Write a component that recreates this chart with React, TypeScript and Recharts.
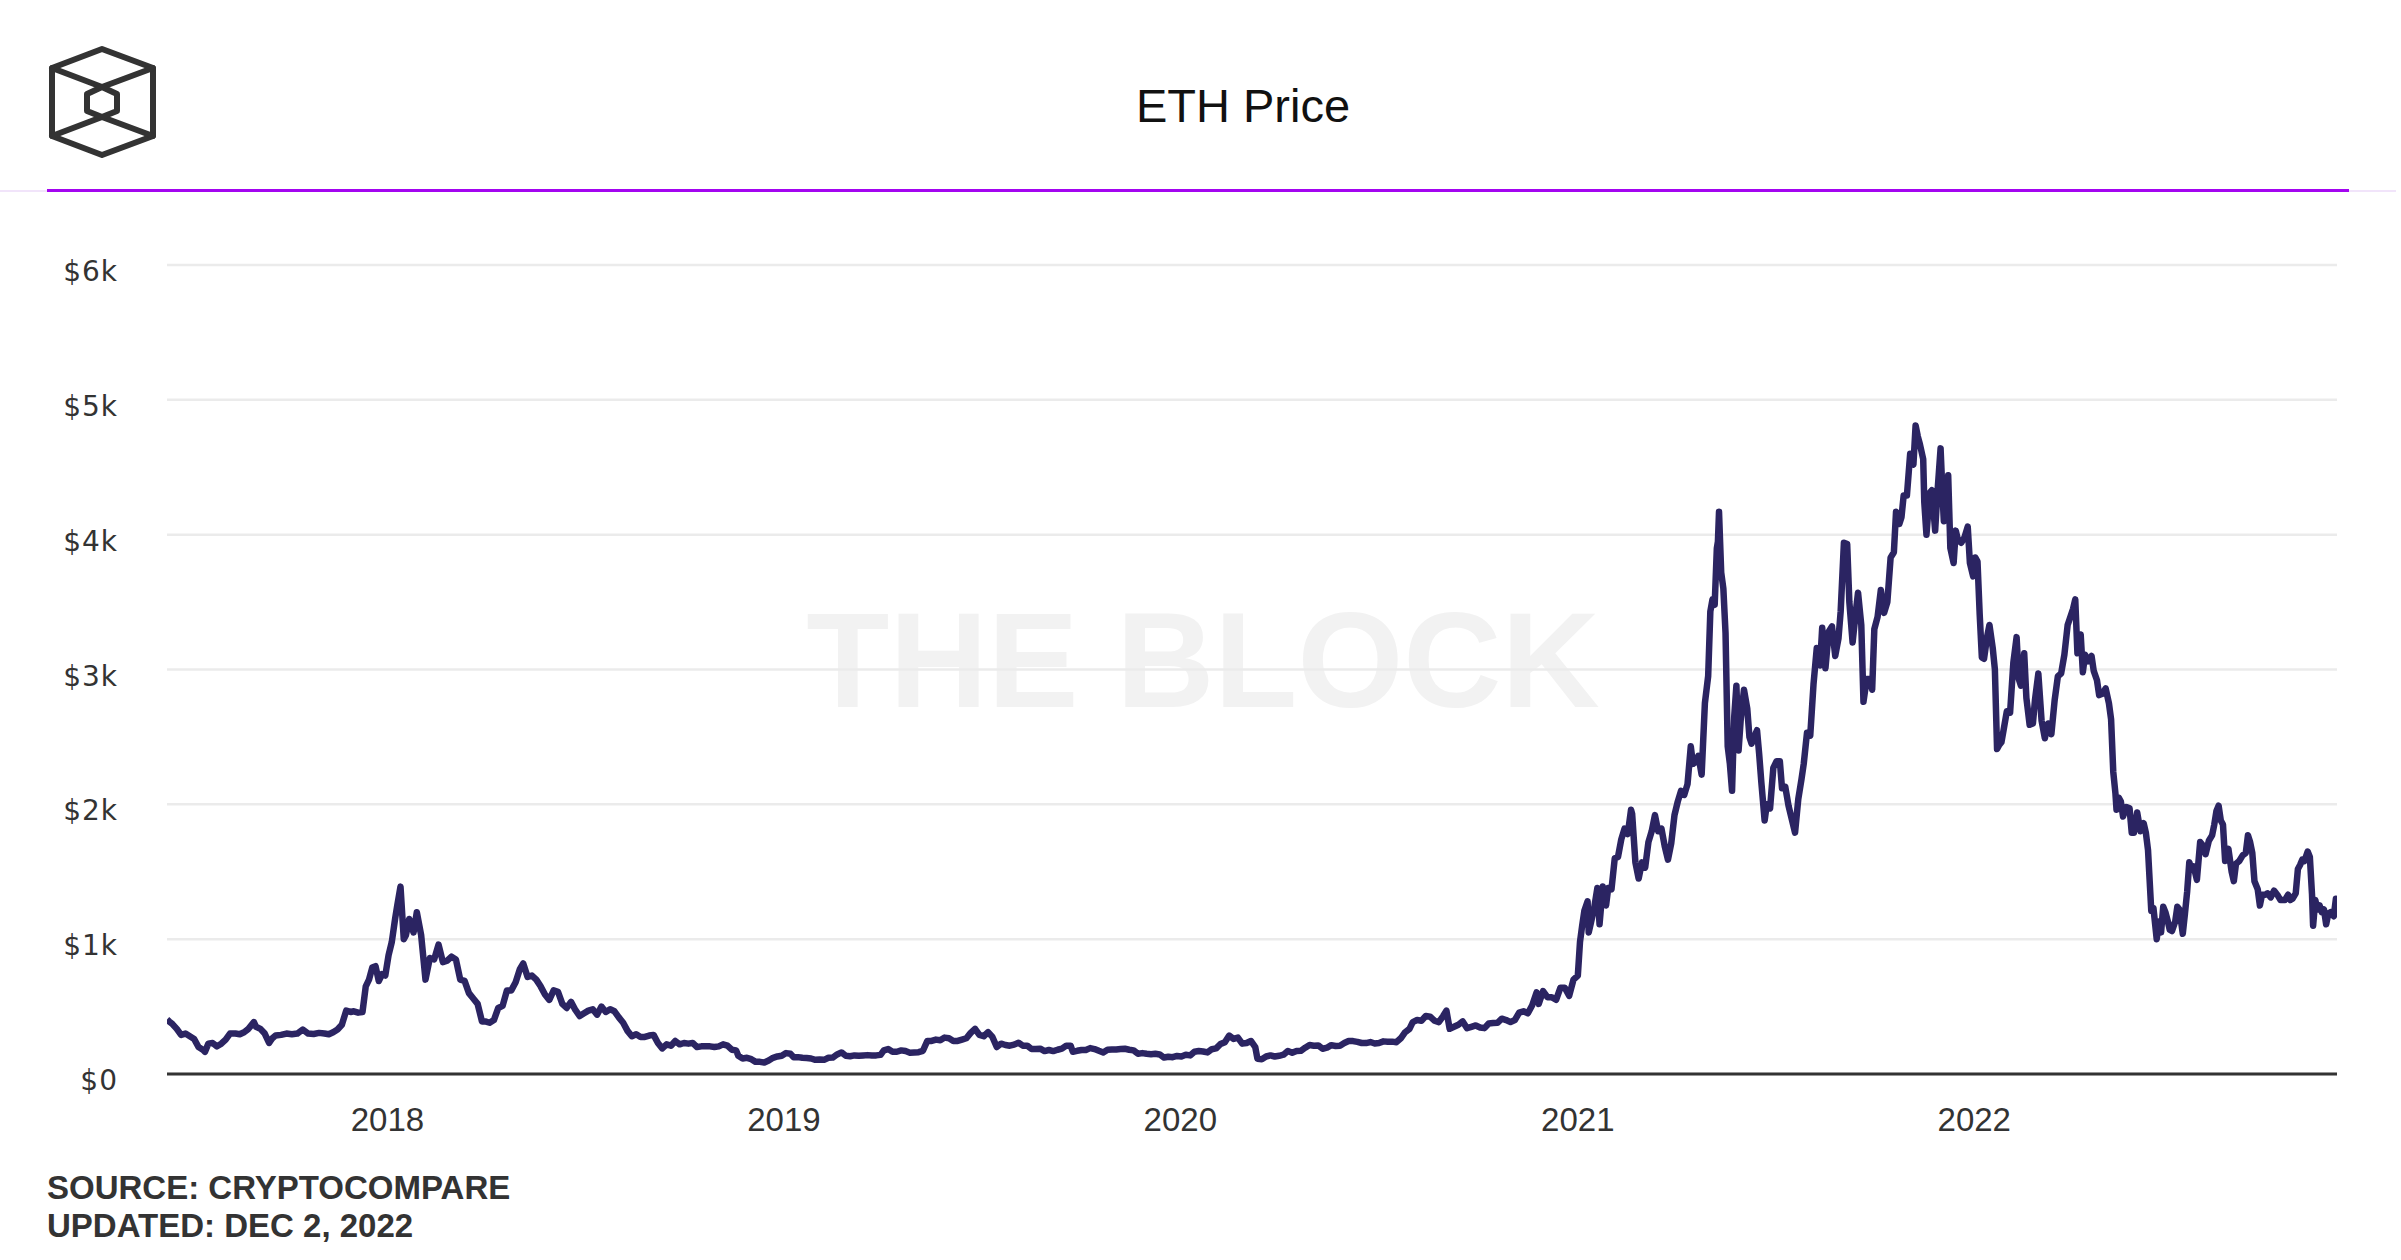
import { LineChart, Line, XAxis, YAxis, CartesianGrid } from 'recharts'

// ETH price (USD): [month-day, price]
const eth2017: [string, number][] = [
  ['06-12', 405], ['06-14', 390], ['06-17', 370], ['06-21', 335], ['06-25', 290], ['06-29', 300],
  ['07-03', 280], ['07-07', 260], ['07-11', 200], ['07-15', 180], ['07-17', 165], ['07-20', 225],
  ['07-24', 230], ['07-28', 205], ['08-01', 225], ['08-05', 255], ['08-09', 300], ['08-14', 300],
  ['08-18', 295], ['08-22', 310], ['08-26', 335], ['08-31', 385], ['09-02', 350], ['09-06', 335],
  ['09-10', 300], ['09-14', 230], ['09-17', 265], ['09-20', 285], ['09-25', 290], ['09-30', 300],
  ['10-05', 295], ['10-10', 300], ['10-15', 330], ['10-20', 300], ['10-25', 297], ['10-30', 305],
  ['11-04', 300], ['11-08', 295], ['11-12', 310], ['11-16', 330], ['11-20', 365], ['11-24', 470],
  ['11-28', 460], ['12-01', 465], ['12-05', 455], ['12-09', 460], ['12-12', 650], ['12-15', 700],
  ['12-18', 790], ['12-21', 800], ['12-24', 690], ['12-27', 740], ['12-30', 730],
]

const eth2018: [string, number][] = [
  ['01-02', 880], ['01-05', 980], ['01-08', 1150], ['01-10', 1250], ['01-13', 1390], ['01-16', 1000],
  ['01-18', 1030], ['01-21', 1150], ['01-25', 1050], ['01-28', 1200], ['02-01', 1030], ['02-05', 700],
  ['02-09', 860], ['02-13', 850], ['02-17', 960], ['02-21', 830], ['02-25', 840], ['03-01', 870],
  ['03-05', 850], ['03-09', 700], ['03-13', 690], ['03-17', 600], ['03-21', 560], ['03-25', 520],
  ['03-29', 390], ['04-01', 390], ['04-05', 380], ['04-09', 400], ['04-13', 490], ['04-17', 505],
  ['04-21', 620], ['04-25', 620], ['04-29', 680], ['05-03', 780], ['05-06', 820], ['05-10', 720],
  ['05-14', 730], ['05-18', 700], ['05-22', 650], ['05-26', 590], ['05-30', 550], ['06-03', 620],
  ['06-07', 610], ['06-11', 520], ['06-15', 490], ['06-19', 535], ['06-23', 475], ['06-27', 430],
  ['07-01', 450], ['07-05', 470], ['07-09', 480], ['07-13', 440], ['07-17', 500], ['07-21', 460],
  ['07-25', 480], ['07-29', 465], ['08-02', 420], ['08-06', 380], ['08-10', 320], ['08-14', 280],
  ['08-18', 295], ['08-22', 275], ['08-26', 275], ['08-30', 285], ['09-03', 290], ['09-07', 230],
  ['09-11', 190], ['09-15', 220], ['09-19', 210], ['09-23', 245], ['09-27', 220], ['10-01', 230],
  ['10-05', 225], ['10-09', 230], ['10-13', 200], ['10-17', 205], ['10-21', 205], ['10-25', 205],
  ['10-29', 200], ['11-02', 205], ['11-06', 220], ['11-10', 210], ['11-14', 180], ['11-18', 175],
  ['11-20', 135], ['11-24', 115], ['11-28', 120], ['12-02', 110], ['12-06', 90], ['12-10', 90],
  ['12-14', 85], ['12-18', 100], ['12-22', 120], ['12-26', 130], ['12-30', 135],
]

const eth2019: [string, number][] = [
  ['01-03', 155], ['01-07', 150], ['01-10', 125], ['01-14', 125], ['01-18', 120], ['01-22', 118],
  ['01-26', 115], ['01-30', 105], ['02-03', 107], ['02-07', 105], ['02-11', 120], ['02-15', 122],
  ['02-19', 145], ['02-23', 160], ['02-27', 135], ['03-03', 132], ['03-07', 138], ['03-11', 135],
  ['03-15', 138], ['03-19', 140], ['03-23', 137], ['03-27', 138], ['03-31', 142], ['04-03', 175],
  ['04-07', 185], ['04-11', 165], ['04-15', 165], ['04-19', 175], ['04-23', 170], ['04-27', 158],
  ['05-01', 160], ['05-05', 162], ['05-09', 172], ['05-13', 245], ['05-17', 245], ['05-21', 255],
  ['05-25', 250], ['05-29', 270], ['06-02', 265], ['06-06', 245], ['06-10', 245], ['06-14', 255],
  ['06-18', 265], ['06-22', 305], ['06-26', 335], ['06-30', 290], ['07-04', 280], ['07-08', 310],
  ['07-12', 275], ['07-16', 200], ['07-20', 225], ['07-24', 215], ['07-28', 210], ['08-01', 218],
  ['08-05', 232], ['08-09', 210], ['08-13', 210], ['08-17', 185], ['08-21', 185], ['08-25', 188],
  ['08-29', 170], ['09-02', 178], ['09-06', 170], ['09-10', 180], ['09-14', 188], ['09-18', 210],
  ['09-22', 210], ['09-24', 165], ['09-28', 172], ['10-02', 178], ['10-06', 178], ['10-10', 192],
  ['10-14', 185], ['10-18', 172], ['10-22', 160], ['10-26', 180], ['10-30', 182], ['11-03', 182],
  ['11-07', 185], ['11-11', 187], ['11-15', 180], ['11-19', 175], ['11-23', 150], ['11-27', 155],
  ['12-01', 150], ['12-05', 147], ['12-09', 150], ['12-13', 145], ['12-17', 122], ['12-21', 128],
  ['12-25', 125], ['12-29', 134],
]

const eth2020: [string, number][] = [
  ['01-02', 130], ['01-06', 143], ['01-10', 138], ['01-14', 165], ['01-18', 170], ['01-22', 167],
  ['01-26', 160], ['01-30', 184], ['02-03', 190], ['02-07', 222], ['02-11', 236], ['02-15', 285],
  ['02-19', 260], ['02-23', 270], ['02-27', 225], ['03-02', 230], ['03-06', 245], ['03-10', 200],
  ['03-12', 113], ['03-16', 110], ['03-20', 130], ['03-24', 138], ['03-28', 130], ['04-01', 135],
  ['04-05', 143], ['04-09', 170], ['04-13', 157], ['04-17', 170], ['04-21', 172], ['04-25', 195],
  ['04-29', 215], ['05-03', 210], ['05-07', 212], ['05-11', 187], ['05-15', 195], ['05-19', 214],
  ['05-23', 208], ['05-27', 210], ['05-31', 230], ['06-04', 245], ['06-08', 244], ['06-12', 238],
  ['06-16', 230], ['06-20', 229], ['06-24', 237], ['06-28', 226], ['07-02', 230], ['07-06', 242],
  ['07-10', 240], ['07-14', 240], ['07-18', 236], ['07-22', 265], ['07-26', 310], ['07-30', 335],
  ['08-02', 385], ['08-06', 400], ['08-10', 395], ['08-14', 430], ['08-18', 425], ['08-22', 395],
  ['08-26', 385], ['08-30', 430], ['09-02', 470], ['09-05', 335], ['09-09', 350], ['09-13', 365],
  ['09-17', 390], ['09-21', 340], ['09-25', 350], ['09-29', 360], ['10-03', 345], ['10-07', 340],
  ['10-11', 375], ['10-15', 378], ['10-19', 380], ['10-23', 410], ['10-27', 400], ['10-31', 385],
  ['11-04', 400], ['11-08', 455], ['11-12', 465], ['11-16', 450], ['11-20', 510], ['11-24', 605],
  ['11-26', 520], ['11-30', 615], ['12-04', 570], ['12-08', 570], ['12-12', 550], ['12-16', 640],
  ['12-20', 640], ['12-24', 580], ['12-28', 700],
]

const eth2021: [string, number][] = [
  ['01-01', 730], ['01-03', 980], ['01-05', 1100], ['01-07', 1210], ['01-10', 1280], ['01-11', 1050],
  ['01-13', 1120], ['01-16', 1230], ['01-19', 1380], ['01-21', 1110], ['01-24', 1390], ['01-27', 1250],
  ['01-29', 1380], ['02-01', 1370], ['02-04', 1600], ['02-07', 1610], ['02-10', 1740], ['02-13', 1820],
  ['02-16', 1780], ['02-19', 1960], ['02-20', 1930], ['02-23', 1570], ['02-26', 1450], ['03-01', 1570],
  ['03-04', 1530], ['03-07', 1720], ['03-10', 1800], ['03-13', 1920], ['03-16', 1800], ['03-19', 1820],
  ['03-22', 1690], ['03-25', 1590], ['03-28', 1710], ['03-31', 1920], ['04-03', 2020], ['04-06', 2100],
  ['04-09', 2070], ['04-12', 2150], ['04-15', 2430], ['04-17', 2300], ['04-20', 2320], ['04-22', 2360],
  ['04-25', 2220], ['04-28', 2750], ['05-01', 2950], ['05-03', 3430], ['05-05', 3520], ['05-07', 3480],
  ['05-09', 3900], ['05-10', 3950], ['05-11', 4170], ['05-13', 3720], ['05-15', 3600], ['05-17', 3270],
  ['05-19', 2430], ['05-21', 2300], ['05-23', 2100], ['05-25', 2650], ['05-27', 2880], ['05-29', 2400],
  ['05-31', 2630], ['06-03', 2850], ['06-06', 2710], ['06-08', 2500], ['06-10', 2450], ['06-13', 2510],
  ['06-15', 2550], ['06-17', 2370], ['06-19', 2160], ['06-22', 1880], ['06-24', 2000], ['06-27', 1970],
  ['06-30', 2270], ['07-03', 2320], ['07-06', 2320], ['07-08', 2120], ['07-11', 2130], ['07-14', 1990],
  ['07-17', 1890], ['07-20', 1790], ['07-23', 2040], ['07-26', 2190], ['07-28', 2300], ['07-31', 2530],
  ['08-03', 2510], ['08-06', 2890], ['08-09', 3160], ['08-12', 3030], ['08-14', 3310], ['08-17', 3010],
  ['08-20', 3280], ['08-23', 3320], ['08-26', 3100], ['08-29', 3230], ['08-31', 3430], ['09-03', 3940],
  ['09-06', 3930], ['09-08', 3500], ['09-11', 3200], ['09-14', 3430], ['09-16', 3570], ['09-19', 3330],
  ['09-21', 2760], ['09-24', 2930], ['09-27', 2930], ['09-29', 2850], ['10-01', 3300], ['10-04', 3390],
  ['10-07', 3590], ['10-10', 3420], ['10-13', 3500], ['10-16', 3830], ['10-19', 3870], ['10-21', 4170],
  ['10-24', 4080], ['10-26', 4130], ['10-28', 4290], ['10-31', 4290], ['11-03', 4600], ['11-06', 4520],
  ['11-08', 4810], ['11-10', 4730], ['11-12', 4670], ['11-15', 4560], ['11-16', 4240], ['11-18', 4000],
  ['11-21', 4310], ['11-23', 4330], ['11-26', 4030], ['11-28', 4300], ['12-01', 4640], ['12-03', 4260],
  ['12-04', 4100], ['12-06', 4320], ['12-08', 4440], ['12-10', 3900], ['12-13', 3790], ['12-15', 4030],
  ['12-17', 3960], ['12-20', 3940], ['12-23', 3980], ['12-26', 4060], ['12-28', 3790], ['12-31', 3690],
]

const eth2022: [string, number][] = [
  ['01-02', 3830], ['01-04', 3800], ['01-06', 3410], ['01-08', 3090], ['01-10', 3080], ['01-13', 3250],
  ['01-15', 3330], ['01-18', 3160], ['01-20', 3000], ['01-22', 2410], ['01-24', 2440], ['01-26', 2460],
  ['01-28', 2550], ['01-31', 2690], ['02-03', 2680], ['02-06', 3050], ['02-09', 3240], ['02-11', 2930],
  ['02-13', 2880], ['02-16', 3120], ['02-18', 2790], ['02-21', 2590], ['02-24', 2600], ['02-26', 2780],
  ['03-01', 2970], ['03-04', 2620], ['03-07', 2490], ['03-10', 2600], ['03-13', 2520], ['03-16', 2770],
  ['03-19', 2950], ['03-22', 2970], ['03-25', 3110], ['03-28', 3330], ['04-02', 3450], ['04-04', 3520],
  ['04-06', 3120], ['04-09', 3260], ['04-11', 2980], ['04-13', 3110], ['04-16', 3060], ['04-19', 3100],
  ['04-21', 2990], ['04-24', 2920], ['04-26', 2810], ['04-29', 2820], ['05-02', 2860], ['05-05', 2750],
  ['05-07', 2630], ['05-09', 2240], ['05-11', 2080], ['05-12', 1960], ['05-14', 2050], ['05-16', 2020],
  ['05-18', 1910], ['05-21', 1980], ['05-24', 1970], ['05-26', 1790], ['05-28', 1790], ['05-31', 1940],
  ['06-03', 1800], ['06-06', 1860], ['06-08', 1790], ['06-10', 1660], ['06-13', 1210], ['06-15', 1230],
  ['06-18', 1000], ['06-20', 1130], ['06-22', 1050], ['06-24', 1240], ['06-26', 1200], ['06-28', 1140],
  ['06-30', 1070], ['07-02', 1060], ['07-05', 1130], ['07-07', 1240], ['07-09', 1220], ['07-12', 1040],
  ['07-14', 1190], ['07-16', 1350], ['07-18', 1570], ['07-20', 1520], ['07-22', 1540], ['07-25', 1440],
  ['07-28', 1720], ['07-30', 1700], ['08-02', 1630], ['08-05', 1730], ['08-08', 1770], ['08-10', 1850],
  ['08-12', 1950], ['08-14', 1990], ['08-16', 1880], ['08-18', 1850], ['08-20', 1580], ['08-23', 1670],
  ['08-26', 1500], ['08-28', 1430], ['08-30', 1560], ['09-02', 1580], ['09-05', 1620], ['09-08', 1640],
  ['09-10', 1770], ['09-12', 1720], ['09-14', 1640], ['09-16', 1430], ['09-19', 1370], ['09-21', 1250],
  ['09-23', 1330], ['09-26', 1330], ['09-28', 1340], ['10-01', 1310], ['10-04', 1360], ['10-07', 1330],
  ['10-10', 1290], ['10-12', 1290], ['10-14', 1290], ['10-17', 1330], ['10-19', 1290], ['10-21', 1300],
  ['10-24', 1340], ['10-26', 1520], ['10-28', 1550], ['10-30', 1590], ['11-01', 1580], ['11-04', 1650],
  ['11-06', 1610], ['11-08', 1330], ['11-09', 1100], ['11-11', 1290], ['11-13', 1220], ['11-15', 1250],
  ['11-17', 1200], ['11-19', 1220], ['11-21', 1110], ['11-23', 1190], ['11-25', 1200], ['11-28', 1170],
  ['11-30', 1300], ['12-01', 1280],
]

const years = [2017, 2018, 2019, 2020, 2021, 2022]
const seriesByYear = [eth2017, eth2018, eth2019, eth2020, eth2021, eth2022]
const yTicks = [0, 1000, 2000, 3000, 4000, 5000, 6000]
const xTickYears = [2018, 2019, 2020, 2021, 2022]

const toTime = (year: number, md: string) => Date.parse(`${year}-${md}T00:00:00Z`)

const data = seriesByYear.flatMap((rows, i) =>
  rows.map(([md, price]) => ({ t: toTime(years[i], md), price }))
)
const xTicks = xTickYears.map((y) => toTime(y, '01-01'))
const xDomain = [toTime(2017, '06-12'), toTime(2022, '12-01')]

const formatPrice = (v: number) => (v === 0 ? '$0' : `$${v / 1000}k`)
const formatYear = (t: number) => String(new Date(t).getUTCFullYear())

// y tick labels sit a little below their gridline in the original
const PriceTick = ({ x, y, payload }: any) => (
  <text
    x={x}
    y={y + 6}
    dy="0.36em"
    textAnchor="end"
    fill="#333"
    fontSize={28}
    fontFamily='"DejaVu Sans", sans-serif'
    letterSpacing={1}
  >
    {formatPrice(payload.value)}
  </text>
)

const Logo = () => (
  <svg width={200} height={200} style={{ position: 'absolute', left: 0, top: 0 }}>
    <g fill="none" stroke="#333" strokeWidth={6} strokeLinejoin="round" strokeLinecap="round">
      <polygon points="102,49 153,68 153,136 102,155 52,136 52,68" />
      <polyline points="52,68 102,87 153,68" />
      <polyline points="52,136 102,117 153,136" />
      <polygon points="102,87 117,94 117,111 102,117 87,111 87,94" />
    </g>
  </svg>
)

const App = () => {
  return (
    <div
      style={{
        position: 'absolute',
        left: 0,
        top: 0,
        width: 2401,
        height: 1260,
        background: '#fff',
        overflow: 'hidden',
        fontFamily: '"Liberation Sans", Arial, sans-serif',
      }}
    >
      <Logo />
      <div
        style={{
          position: 'absolute',
          left: 843,
          top: 82,
          width: 800,
          textAlign: 'center',
          fontSize: 47,
          lineHeight: '47px',
          color: '#111',
        }}
      >
        ETH Price
      </div>
      {/* header rule */}
      <div style={{ position: 'absolute', left: 0, top: 190, width: 2396, height: 2, background: '#f1e4fa' }} />
      <div style={{ position: 'absolute', left: 47, top: 189, width: 2302, height: 3, background: '#a305f0' }} />

      {/* watermark */}
      <div
        style={{
          position: 'absolute',
          left: 703,
          top: 592,
          width: 1000,
          textAlign: 'center',
          fontSize: 136,
          lineHeight: '136px',
          fontWeight: 700,
          color: '#f2f2f2',
        }}
      >
        THE BLOCK
      </div>

      <div style={{ position: 'absolute', left: 0, top: 0 }}>
        <LineChart width={2401} height={1260} data={data} margin={{ top: 265, right: 64, bottom: 100, left: 0 }}>
          <CartesianGrid vertical={false} stroke="#ebebeb" strokeWidth={2.5} />
          <XAxis
            dataKey="t"
            type="number"
            domain={xDomain}
            ticks={xTicks}
            tickFormatter={formatYear}
            height={86}
            tickLine={false}
            tickSize={0}
            tickMargin={34}
            axisLine={{ stroke: '#333', strokeWidth: 3 }}
            tick={{ fill: '#333', fontSize: 33, fontFamily: '"Liberation Sans", Arial, sans-serif' }}
            allowDataOverflow
          />
          <YAxis
            domain={[0, 6000]}
            ticks={yTicks}
            width={167}
            axisLine={false}
            tickLine={false}
            tickSize={0}
            tickMargin={49}
            tick={<PriceTick />}
          />
          <Line
            type="linear"
            dataKey="price"
            stroke="#2b2462"
            strokeWidth={6.5}
            strokeLinejoin="round"
            dot={false}
            isAnimationActive={false}
          />
        </LineChart>
      </div>

      <div style={{ position: 'absolute', left: 47, top: 1171, fontSize: 33, lineHeight: '33px', fontWeight: 700, color: '#333' }}>
        SOURCE: CRYPTOCOMPARE
      </div>
      <div style={{ position: 'absolute', left: 47, top: 1209, fontSize: 33, lineHeight: '33px', fontWeight: 700, color: '#333' }}>
        UPDATED: DEC 2, 2022
      </div>
    </div>
  )
}

export default App
